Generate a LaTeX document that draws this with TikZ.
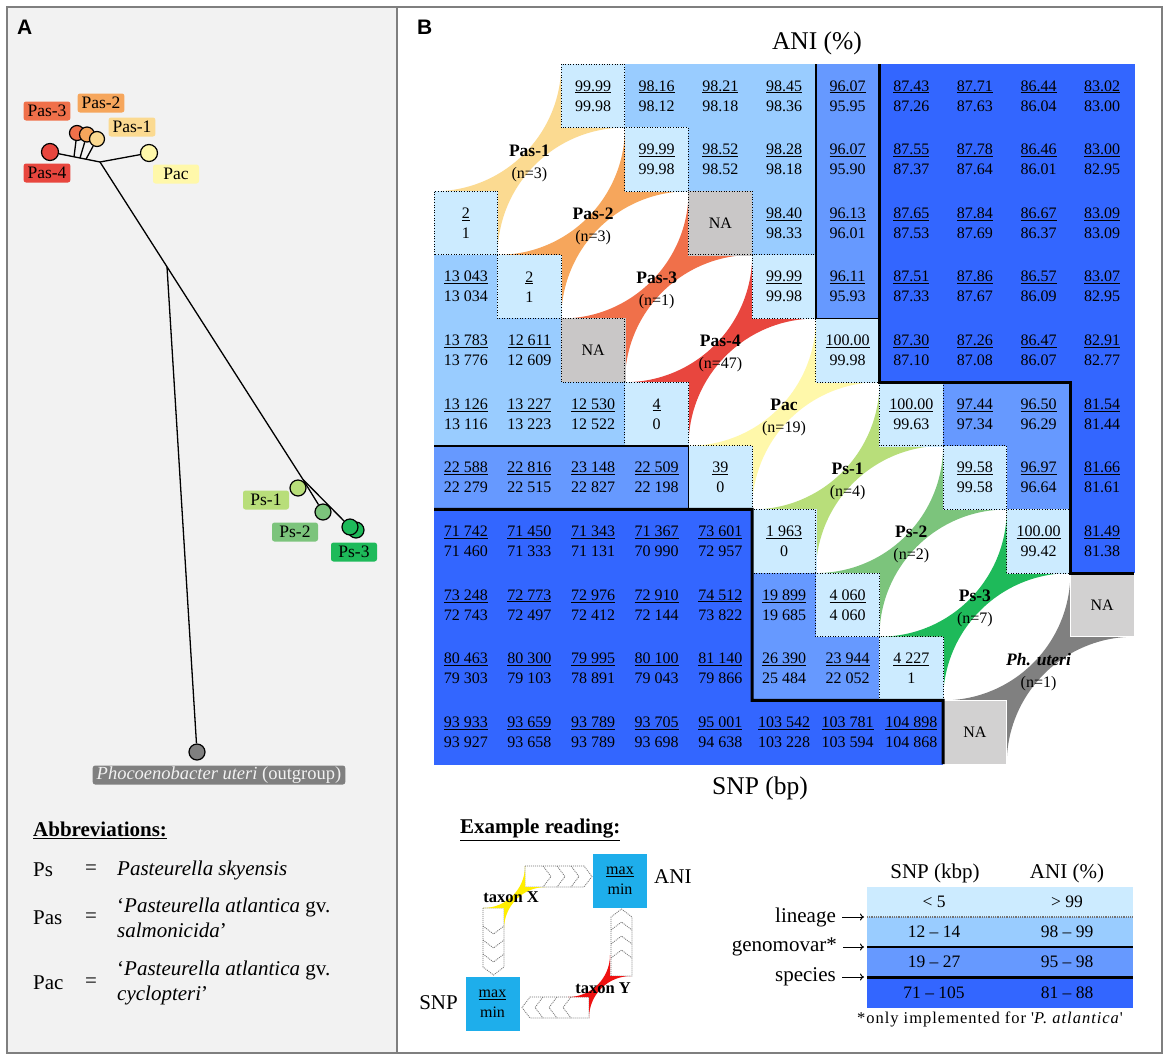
\documentclass[tikz,border=0pt]{standalone}
\usepackage{fontspec}
\setmainfont{Liberation Serif}
\newfontfamily\sanslab{Liberation Sans}
\usetikzlibrary{arrows.meta,calc}
\definecolor{linC}{HTML}{CCEBFF}
\definecolor{genC}{HTML}{99CCFF}
\definecolor{gmvC}{HTML}{6699FF}
\definecolor{spcC}{HTML}{3366FF}
\definecolor{naC}{HTML}{C9C7C7}
\definecolor{naL}{HTML}{D2D1D1}
\definecolor{panelC}{HTML}{F2F2F2}
\definecolor{frameC}{HTML}{7F7F7F}
\definecolor{pasAC}{HTML}{FBDA91}
\definecolor{pasBC}{HTML}{F6A65C}
\definecolor{pasCC}{HTML}{F0704A}
\definecolor{pasDC}{HTML}{E8463E}
\definecolor{pacC}{HTML}{FFF8AA}
\definecolor{psAC}{HTML}{B8DE7A}
\definecolor{psBC}{HTML}{7CC47C}
\definecolor{psCC}{HTML}{1EBA5A}
\definecolor{phuC}{HTML}{808080}
\definecolor{exC}{HTML}{1EAEEB}
\definecolor{exYel}{HTML}{FFEE00}
\definecolor{exRed}{HTML}{EE1111}
\newcommand\fsz[2]{\fontsize{#1}{#2}\selectfont}
\newcommand\gridS{63.636}
\newcommand\gridX{434}
\newcommand\gridY{64}
\tikzset{
  cellbox/.style={minimum width=63.636pt, minimum height=63.636pt, inner sep=0pt, outer sep=0pt, align=center, font=\fsz{16}{20}},
  linc/.style={fill=linC, draw=linC, line width=0.4pt},
  genc/.style={fill=genC, draw=genC, line width=0.4pt},
  gmvc/.style={fill=gmvC, draw=gmvC, line width=0.4pt},
  spcc/.style={fill=spcC, draw=spcC, line width=0.4pt},
  nac/.style={fill=naC, draw=naC, line width=0.4pt},
  nal/.style={fill=naL, draw=white, line width=0.8pt},
  dotb/.style={draw=black, line width=1pt, dash pattern=on 1pt off 1.6pt},
  thickb/.style={draw=black, line width=3pt},
  thinb/.style={draw=black, line width=1.4pt},
  frameline/.style={draw=frameC, line width=2.5pt},
  panlab/.style={inner sep=0pt, font=\sanslab\bfseries\fsz{21}{24}},
  txt/.style={inner sep=0pt},
  tnode/.style={circle, draw=black, line width=1.2pt, minimum size=16pt, inner sep=0pt},
  tline/.style={draw=black, line width=1.3pt},
  tlab/.style={rounded corners=2.5pt, minimum width=46pt, minimum height=19pt, inner xsep=4pt, inner ysep=0pt, font=\fsz{17.5}{20}},
  taxlab/.style={align=center, inner sep=0pt, font=\fsz{16}{22}},
  exbox/.style={fill=exC, minimum size=54pt, inner sep=0pt, align=center, font=\fsz{16}{20}},
  chev/.style={draw=black!55, line width=0.8pt, dash pattern=on 1pt off 1pt, fill=white},
  chevin/.style={draw=black!55, line width=0.8pt, dash pattern=on 1pt off 1pt},
  lgrow/.style={minimum width=266pt, minimum height=30pt, inner sep=0pt, outer sep=0pt},
  lgval/.style={inner sep=0pt, font=\fsz{17.5}{20}},
  lgdot/.style={draw=black!55, line width=1.2pt, dash pattern=on 1pt off 0.8pt},
  legarrow/.style={draw=black, line width=1pt, -{To[length=4pt,width=7pt]}, shorten <=6pt}
}
\newcommand\gcell[5]{\node[cellbox,#3] (g#1x#2) at ({\gridX+(#2+0.5)*\gridS},{\gridY+(#1+0.5)*\gridS}) {\underline{#4}\\#5};}
\newcommand\nacell[3]{\node[cellbox,#3] (g#1x#2) at ({\gridX+(#2+0.5)*\gridS},{\gridY+(#1+0.5)*\gridS}) {NA};}
\newcommand\dotcell[2]{\draw[dotb] (g#1x#2.south west) rectangle (g#1x#2.north east);}
\newcommand\taxstar[4]{\fill[#4, shift={(#1,#2)}, scale=#3] (2,0) -- (2,1) -- (3,1) .. controls (1.8954,1) and (1,1.8954) .. (1,3) -- (1,2) -- (0,2) .. controls (1.1046,2) and (2,1.1046) .. (2,0) -- cycle;}
\newcommand\gstar[2]{\taxstar{\gridX+#1*\gridS}{\gridY+#1*\gridS}{\gridS}{#2}}
\newcommand\glab[3]{\node[taxlab] (tx#1) at ({\gridX+(#1+1.5)*\gridS},{\gridY+(#1+1.5)*\gridS+3.5}) {{\bfseries\fsz{17.5}{22}#2}\\(n=#3)};}
\begin{document}
\begin{tikzpicture}[x=1pt,y=-1pt]
\useasboundingbox (0,0) rectangle (1170,1061);
\fill[white] (0,0) rectangle (1170,1061);
\fill[panelC] (7,7) rectangle (397,1053);
\draw[frameline] (7,7) rectangle (1162,1053);
\draw[frameline] (397,7) -- (397,1053);
\node[panlab, anchor=west] (labA) at (17,27) {A};
\node[panlab, anchor=west] (labB) at (417,27) {B};

% ---------- Panel A tree ----------
\coordinate (h1) at (100,162);
\coordinate (j1) at (303,479.5);
\coordinate (h2) at ($(h1)!0.33!(j1)$);
\coordinate (b3) at (74,156.8);
\coordinate (b2) at (80,158);
\coordinate (b1) at (86,159.2);
\node[tnode, fill=pasDC, minimum size=17pt] (tpas4) at (50,152) {};
\node[tnode, fill=pasCC, minimum size=15pt] (tpas3) at (77,133) {};
\node[tnode, fill=pasBC, minimum size=15pt] (tpas2) at (87,134.5) {};
\node[tnode, fill=pasAC, minimum size=15pt] (tpas1) at (97,139) {};
\node[tnode, fill=pacC, minimum size=17pt] (tpac) at (149,153) {};
\node[tnode, fill=psAC] (tps1) at (298,488) {};
\node[tnode, fill=psBC] (tps2) at (323,512) {};
\node[tnode, fill=psCC] (tps3b) at (356,530) {};
\node[tnode, fill=psCC] (tps3a) at (350,527) {};
\node[tnode, fill=phuC] (tout) at (197,752) {};
\draw[tline] (tpas4) -- (h1);
\draw[tline] (b3) -- (tpas3);
\draw[tline] (b2) -- (tpas2);
\draw[tline] (b1) -- (tpas1);
\draw[tline] (h1) -- (tpac);
\draw[tline] (h1) -- (j1);
\draw[tline] (h2) -- (tout);
\draw[tline] (j1) -- (tps2);
\draw[tline] (j1) -- (tps3a);
\node[tlab, fill=pasCC] (lpas3) at (47,111) {Pas-3};
\node[tlab, fill=pasBC] (lpas2) at (101,103) {Pas-2};
\node[tlab, fill=pasAC] (lpas1) at (132,127) {Pas-1};
\node[tlab, fill=pasDC] (lpas4) at (47,173) {Pas-4};
\node[tlab, fill=pacC] (lpac) at (176,174) {Pac};
\node[tlab, fill=psAC] (lps1) at (266,500) {Ps-1};
\node[tlab, fill=psBC] (lps2) at (295,532) {Ps-2};
\node[tlab, fill=psCC] (lps3) at (354,552) {Ps-3};
\node[tlab, fill=phuC, text=black!5, font=\fsz{18.5}{20}] (lout) at (219,775) {\textit{Phocoenobacter uteri} (outgroup)};

% ---------- Abbreviations ----------
\node[txt, anchor=west, font=\fsz{21}{25}] (abh) at (33,830) {\underline{\textbf{Abbreviations:}}};
\node[txt, anchor=west, font=\fsz{21}{25}] (ab1) at (33,870) {Ps};
\node[txt, font=\fsz{21}{25}] (ab1e) at (91,870) {=};
\node[txt, anchor=west, font=\fsz{21}{25}] (ab1d) at (117,870) {\textit{Pasteurella skyensis}};
\node[txt, anchor=west, font=\fsz{21}{25}] (ab2) at (33,918) {Pas};
\node[txt, font=\fsz{21}{25}] (ab2e) at (91,918) {=};
\node[txt, anchor=west, align=left, font=\fsz{21}{25}] (ab2d) at (117,917.5) {‘\textit{Pasteurella atlantica} gv.\\\textit{salmonicida}’};
\node[txt, anchor=west, font=\fsz{21}{25}] (ab3) at (33,983) {Pac};
\node[txt, font=\fsz{21}{25}] (ab3e) at (91,983) {=};
\node[txt, anchor=west, align=left, font=\fsz{21}{25}] (ab3d) at (117,982.5) {‘\textit{Pasteurella atlantica} gv.\\\textit{cyclopteri}’};

% ---------- Panel B grid: taxon stars ----------
\gstar{0}{pasAC}
\gstar{1}{pasBC}
\gstar{2}{pasCC}
\gstar{3}{pasDC}
\gstar{4}{pacC}
\gstar{5}{psAC}
\gstar{6}{psBC}
\gstar{7}{psCC}
\gstar{8}{phuC}

% ---------- upper triangle (ANI) ----------
\gcell{0}{2}{linc}{99.99}{99.98}
\gcell{0}{3}{genc}{98.16}{98.12}
\gcell{0}{4}{genc}{98.21}{98.18}
\gcell{0}{5}{genc}{98.45}{98.36}
\gcell{0}{6}{gmvc}{96.07}{95.95}
\gcell{0}{7}{spcc}{87.43}{87.26}
\gcell{0}{8}{spcc}{87.71}{87.63}
\gcell{0}{9}{spcc}{86.44}{86.04}
\gcell{0}{10}{spcc}{83.02}{83.00}
\gcell{1}{3}{linc}{99.99}{99.98}
\gcell{1}{4}{genc}{98.52}{98.52}
\gcell{1}{5}{genc}{98.28}{98.18}
\gcell{1}{6}{gmvc}{96.07}{95.90}
\gcell{1}{7}{spcc}{87.55}{87.37}
\gcell{1}{8}{spcc}{87.78}{87.64}
\gcell{1}{9}{spcc}{86.46}{86.01}
\gcell{1}{10}{spcc}{83.00}{82.95}
\nacell{2}{4}{nac}
\gcell{2}{5}{genc}{98.40}{98.33}
\gcell{2}{6}{gmvc}{96.13}{96.01}
\gcell{2}{7}{spcc}{87.65}{87.53}
\gcell{2}{8}{spcc}{87.84}{87.69}
\gcell{2}{9}{spcc}{86.67}{86.37}
\gcell{2}{10}{spcc}{83.09}{83.09}
\gcell{3}{5}{linc}{99.99}{99.98}
\gcell{3}{6}{gmvc}{96.11}{95.93}
\gcell{3}{7}{spcc}{87.51}{87.33}
\gcell{3}{8}{spcc}{87.86}{87.67}
\gcell{3}{9}{spcc}{86.57}{86.09}
\gcell{3}{10}{spcc}{83.07}{82.95}
\gcell{4}{6}{linc}{100.00}{99.98}
\gcell{4}{7}{spcc}{87.30}{87.10}
\gcell{4}{8}{spcc}{87.26}{87.08}
\gcell{4}{9}{spcc}{86.47}{86.07}
\gcell{4}{10}{spcc}{82.91}{82.77}
\gcell{5}{7}{linc}{100.00}{99.63}
\gcell{5}{8}{gmvc}{97.44}{97.34}
\gcell{5}{9}{gmvc}{96.50}{96.29}
\gcell{5}{10}{spcc}{81.54}{81.44}
\gcell{6}{8}{linc}{99.58}{99.58}
\gcell{6}{9}{gmvc}{96.97}{96.64}
\gcell{6}{10}{spcc}{81.66}{81.61}
\gcell{7}{9}{linc}{100.00}{99.42}
\gcell{7}{10}{spcc}{81.49}{81.38}
\nacell{8}{10}{nal}

% ---------- lower triangle (SNP) ----------
\gcell{2}{0}{linc}{2}{1}
\gcell{3}{0}{genc}{13 043}{13 034}
\gcell{3}{1}{linc}{2}{1}
\gcell{4}{0}{genc}{13 783}{13 776}
\gcell{4}{1}{genc}{12 611}{12 609}
\nacell{4}{2}{nac}
\gcell{5}{0}{genc}{13 126}{13 116}
\gcell{5}{1}{genc}{13 227}{13 223}
\gcell{5}{2}{genc}{12 530}{12 522}
\gcell{5}{3}{linc}{4}{0}
\gcell{6}{0}{gmvc}{22 588}{22 279}
\gcell{6}{1}{gmvc}{22 816}{22 515}
\gcell{6}{2}{gmvc}{23 148}{22 827}
\gcell{6}{3}{gmvc}{22 509}{22 198}
\gcell{6}{4}{linc}{39}{0}
\gcell{7}{0}{spcc}{71 742}{71 460}
\gcell{7}{1}{spcc}{71 450}{71 333}
\gcell{7}{2}{spcc}{71 343}{71 131}
\gcell{7}{3}{spcc}{71 367}{70 990}
\gcell{7}{4}{spcc}{73 601}{72 957}
\gcell{7}{5}{linc}{1 963}{0}
\gcell{8}{0}{spcc}{73 248}{72 743}
\gcell{8}{1}{spcc}{72 773}{72 497}
\gcell{8}{2}{spcc}{72 976}{72 412}
\gcell{8}{3}{spcc}{72 910}{72 144}
\gcell{8}{4}{spcc}{74 512}{73 822}
\gcell{8}{5}{gmvc}{19 899}{19 685}
\gcell{8}{6}{linc}{4 060}{4 060}
\gcell{9}{0}{spcc}{80 463}{79 303}
\gcell{9}{1}{spcc}{80 300}{79 103}
\gcell{9}{2}{spcc}{79 995}{78 891}
\gcell{9}{3}{spcc}{80 100}{79 043}
\gcell{9}{4}{spcc}{81 140}{79 866}
\gcell{9}{5}{gmvc}{26 390}{25 484}
\gcell{9}{6}{gmvc}{23 944}{22 052}
\gcell{9}{7}{linc}{4 227}{1}
\gcell{10}{0}{spcc}{93 933}{93 927}
\gcell{10}{1}{spcc}{93 659}{93 658}
\gcell{10}{2}{spcc}{93 789}{93 789}
\gcell{10}{3}{spcc}{93 705}{93 698}
\gcell{10}{4}{spcc}{95 001}{94 638}
\gcell{10}{5}{spcc}{103 542}{103 228}
\gcell{10}{6}{spcc}{103 781}{103 594}
\gcell{10}{7}{spcc}{104 898}{104 868}
\nacell{10}{8}{nal}

% dotted borders
\dotcell{0}{2}\dotcell{1}{3}\dotcell{2}{4}\dotcell{3}{5}\dotcell{4}{6}\dotcell{5}{7}\dotcell{6}{8}\dotcell{7}{9}
\dotcell{2}{0}\dotcell{3}{1}\dotcell{4}{2}\dotcell{5}{3}\dotcell{6}{4}\dotcell{7}{5}\dotcell{8}{6}\dotcell{9}{7}

% group boundaries
\draw[thinb] (g0x6.north west) -- (g3x6.south west) -- (g3x6.south east);
\draw[thinb] (g6x0.north west) -- (g6x4.north west) -- (g6x4.south west);
\draw[thickb] (g0x7.north west) -- (g4x7.south west) -- (g4x10.south west) -- (g7x10.south west) -- (g7x10.south east);
\draw[thickb] (g7x0.north west) -- (g7x5.north west) -- (g9x5.south west) -- (g9x7.south east) -- (g10x8.south west);

% taxon labels
\glab{0}{Pas-1}{3}
\glab{1}{Pas-2}{3}
\glab{2}{Pas-3}{1}
\glab{3}{Pas-4}{47}
\glab{4}{Pac}{19}
\glab{5}{Ps-1}{4}
\glab{6}{Ps-2}{2}
\glab{7}{Ps-3}{7}
\glab{8}{\itshape Ph. uteri}{1}

\node[txt, font=\fsz{25.5}{28}] (aniT) at (817,43) {ANI (\%)};
\node[txt, font=\fsz{25.5}{28}] (snpT) at (760,788) {SNP (bp)};

% ---------- Example reading ----------
\node[txt, anchor=west, font=\fsz{21}{25}] (exh) at (460,830) {\underline{\textbf{Example reading:}}};
\draw[chev] (525,866) -- (584,866) -- (592,876.5) -- (584,887) -- (525,887) -- cycle;
\draw[chevin] (543,866) -- (551,876.5) -- (543,887);
\draw[chevin] (557,866) -- (565,876.5) -- (557,887);
\draw[chevin] (571,866) -- (579,876.5) -- (571,887);
\draw[chev] (483,908) -- (483,967) -- (493.5,975) -- (504,967) -- (504,908) -- cycle;
\draw[chevin] (483,926) -- (493.5,934) -- (504,926);
\draw[chevin] (483,940) -- (493.5,948) -- (504,940);
\draw[chevin] (483,954) -- (493.5,962) -- (504,954);
\draw[chev] (611,976) -- (611,917) -- (621.5,909) -- (632,917) -- (632,976) -- cycle;
\draw[chevin] (611,958) -- (621.5,950) -- (632,958);
\draw[chevin] (611,944) -- (621.5,936) -- (632,944);
\draw[chevin] (611,930) -- (621.5,922) -- (632,930);
\draw[chev] (589,997) -- (530,997) -- (522,1007.5) -- (530,1018) -- (589,1018) -- cycle;
\draw[chevin] (571,997) -- (563,1007.5) -- (571,1018);
\draw[chevin] (557,997) -- (549,1007.5) -- (557,1018);
\draw[chevin] (543,997) -- (535,1007.5) -- (543,1018);
\taxstar{483}{866}{21}{exYel}
\taxstar{568}{955}{21}{exRed}
\node[exbox] (exani) at (620,880.5) {\underline{max}\\min};
\node[exbox] (exsnp) at (492.5,1003.5) {\underline{max}\\min};
\node[txt, anchor=west, font=\fsz{21}{24}] (exanil) at (654,877) {ANI};
\node[txt, anchor=east, font=\fsz{21}{24}] (exsnpl) at (458,1003) {SNP};
\node[txt, font=\bfseries\fsz{16.5}{20}] (taxX) at (511,897) {taxon X};
\node[txt, font=\bfseries\fsz{16.5}{20}] (taxY) at (603,988) {taxon Y};

% ---------- Legend table ----------
\node[txt, font=\fsz{21}{24}] (lgh1) at (935,873) {SNP (kbp)};
\node[txt, font=\fsz{21}{24}] (lgh2) at (1067,873) {ANI (\%)};
\node[lgrow, fill=linC] (lg1) at (1000,902) {};
\node[lgrow, fill=genC] (lg2) at (1000,932) {};
\node[lgrow, fill=gmvC] (lg3) at (1000,962) {};
\node[lgrow, fill=spcC, minimum height=31pt] (lg4) at (1000,992.5) {};
\draw[lgdot] (lg1.south west) -- (lg1.south east);
\draw[thinb] (lg2.south west) -- (lg2.south east);
\draw[thickb] (lg3.south west) -- (lg3.south east);
\node[lgval] (v1a) at (934,902) {< 5};
\node[lgval] (v1b) at (1067,902) {> 99};
\node[lgval] (v2a) at (934,932) {12 – 14};
\node[lgval] (v2b) at (1067,932) {98 – 99};
\node[lgval] (v3a) at (934,962) {19 – 27};
\node[lgval] (v3b) at (1067,962) {95 – 98};
\node[lgval] (v4a) at (934,992.5) {71 – 105};
\node[lgval] (v4b) at (1067,992.5) {81 – 88};
\node[txt, anchor=east, font=\fsz{21}{24}] (ll1) at (836,917) {lineage};
\node[txt, anchor=east, font=\fsz{21}{24}] (ll2) at (837,947) {genomovar*};
\node[txt, anchor=east, font=\fsz{21}{24}] (ll3) at (836,977) {species};
\coordinate (la1) at (864,917);
\coordinate (la2) at (864,947);
\coordinate (la3) at (864,977);
\draw[legarrow] (ll1) -- (la1);
\draw[legarrow] (ll2) -- (la2);
\draw[legarrow] (ll3) -- (la3);
\node[txt, font=\fsz{16.5}{18}] (fnote) at (990,1019) {\addfontfeature{LetterSpace=6}*only implemented for \textquotesingle\textit{P. atlantica}\textquotesingle};
\end{tikzpicture}
\end{document}
